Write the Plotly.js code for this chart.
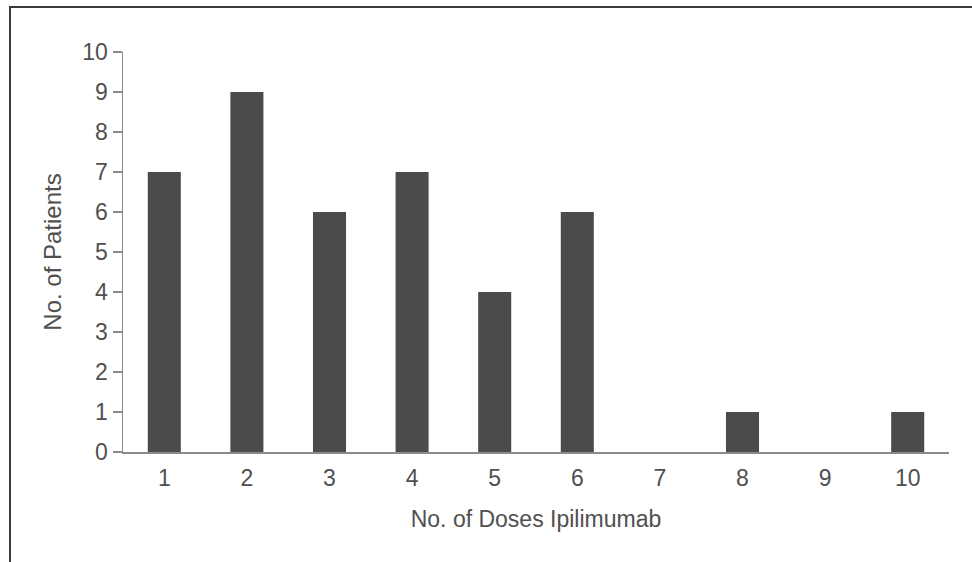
<!DOCTYPE html>
<html>
<head>
<meta charset="utf-8">
<script src="https://cdn.plot.ly/plotly-3.0.1.min.js"></script>
<style>
  html, body { margin: 0; padding: 0; background: #fff; }
  #wrap { position: relative; width: 972px; height: 562px; overflow: hidden; }
  #chart { position: absolute; left: 0; top: 0; width: 972px; height: 562px; }
  #frame { position: absolute; left: 9px; top: 6px; width: 970px; height: 554px;
           border-left: 2px solid #3a3a3a; border-top: 2px solid #3a3a3a;
           border-bottom: 1px solid #d0d0d0; pointer-events: none; }
</style>
</head>
<body>
<div id="wrap">
  <div id="chart"></div>
  <div id="frame"></div>
</div>
<script>
const doses = [1, 2, 3, 4, 5, 6, 7, 8, 9, 10];
const patients = [7, 9, 6, 7, 4, 6, 0, 1, 0, 1];
const yTicks = [0, 1, 2, 3, 4, 5, 6, 7, 8, 9, 10];
const xTitle = 'No. of Doses Ipilimumab';
const yTitle = 'No. of Patients';

const font = 'Liberation Sans, Arial, Helvetica, sans-serif';
const textColor = '#505050';
const axisColor = '#8a8a8a';

Plotly.newPlot('chart', [{
  type: 'bar',
  x: doses,
  y: patients,
  width: 0.4,
  marker: { color: '#4b4b4b', line: { width: 0 } },
  hoverinfo: 'none'
}], {
  width: 972,
  height: 562,
  margin: { l: 123, r: 23, t: 52, b: 110 },
  paper_bgcolor: '#ffffff',
  plot_bgcolor: '#ffffff',
  showlegend: false,
  font: { family: font, size: 22, color: textColor },
  xaxis: {
    range: [0.5, 10.5],
    tickmode: 'array',
    tickvals: doses,
    ticktext: doses.map(String),
    showgrid: false,
    zeroline: false,
    showline: true,
    linecolor: axisColor,
    linewidth: 1.5,
    ticks: 'outside',
    ticklen: 5,
    tickcolor: 'rgba(0,0,0,0)',
    tickfont: { family: font, size: 23, color: textColor },
    title: { text: xTitle, font: { family: font, size: 23, color: textColor }, standoff: 21 }
  },
  yaxis: {
    range: [0, 10],
    tickmode: 'array',
    tickvals: yTicks,
    ticktext: yTicks.map(String),
    showgrid: false,
    zeroline: false,
    showline: true,
    linecolor: axisColor,
    linewidth: 1.5,
    ticks: 'outside',
    ticklen: 9,
    tickwidth: 1.5,
    tickcolor: axisColor,
    tickfont: { family: font, size: 23, color: textColor },
    title: { text: yTitle, font: { family: font, size: 24, color: textColor }, standoff: 14 }
  }
}, { staticPlot: true, displayModeBar: false });
</script>
</body>
</html>
